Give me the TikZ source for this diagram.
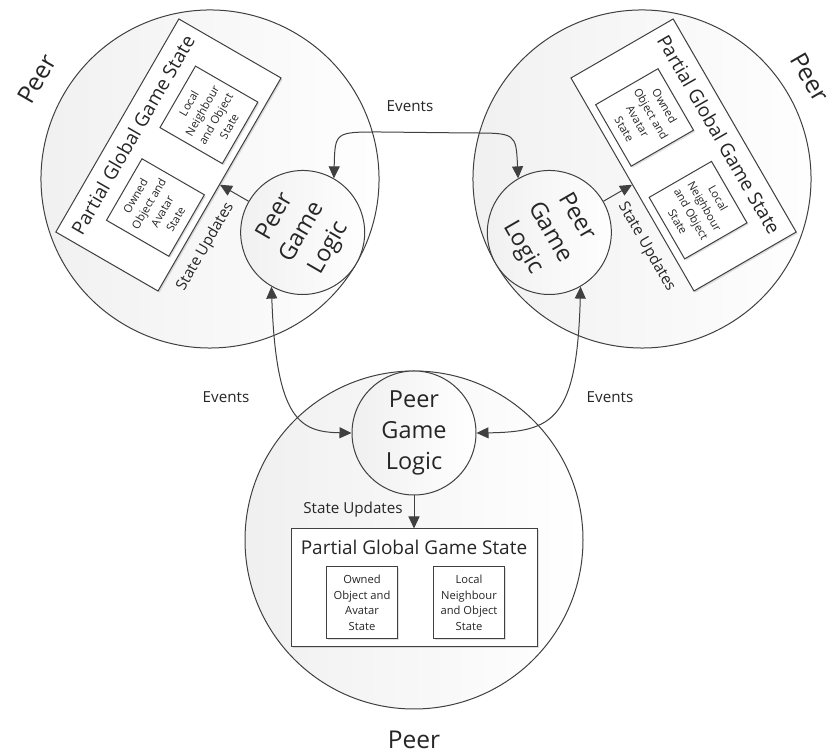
\documentclass[tikz,border=0pt]{standalone}
\usepackage{fontspec}
\setmainfont{Open Sans}
\usetikzlibrary{arrows.meta,shadows,calc}
\definecolor{lc}{HTML}{404040}
\definecolor{tc}{HTML}{262626}
\tikzset{
  ln/.style={draw=lc, line width=1pt},
  bigc/.style={circle, ln, minimum size=338pt, inner sep=0pt, left color=gray!12, right color=white},
  logicc/.style={circle, ln, minimum size=124pt, inner sep=0pt, left color=gray!12, right color=white,
     font=\fontsize{23.5}{31}\selectfont, align=center, text=tc},
  statebox/.style={rectangle, ln, fill=white, minimum width=246pt, minimum height=118pt, inner sep=0pt,
     drop shadow={opacity=0.25, shadow xshift=1.5pt, shadow yshift=-1.5pt}},
  innerbox/.style={rectangle, ln, fill=white, minimum width=71pt, minimum height=72pt, inner sep=0pt,
     align=center, font=\fontsize{11.2}{15.5}\selectfont, text=tc,
     drop shadow={opacity=0.25, shadow xshift=1.5pt, shadow yshift=-1.5pt}},
  titlelbl/.style={font=\fontsize{19}{23}\selectfont, text=tc, inner sep=0pt},
  lbl/.style={font=\fontsize{15.2}{18}\selectfont, text=tc, inner sep=0pt},
  peerlbl/.style={font=\fontsize{24.5}{29}\selectfont, text=tc, inner sep=0pt},
  evarrow/.style={ln, {Triangle[length=12pt,width=11pt]}-{Triangle[length=12pt,width=11pt]}},
  suarrow/.style={ln, -{Triangle[length=12pt,width=11pt]}},
}
% #1 prefix, #2 centre, #3 rotation, #4 layout sign, #5 side of the State Updates label
\newcommand\peergroup[5]{%
\begin{scope}[shift={#2}, rotate=#3, transform shape]
  \node[bigc] (#1-peer) at (0,0) {};
  \node[logicc] (#1-logic) at (0,{-107*#4}) {Peer\\Game\\Logic};
  \node[statebox] (#1-state) at (0,{48*#4}) {};
  \node[titlelbl] (#1-title) at (0,{48*#4+41}) {Partial Global Game State};
  \node[innerbox] (#1-owned) at (-52,{48*#4-15}) {Owned\\Object and\\Avatar\\State};
  \node[innerbox] (#1-local) at (55,{48*#4-15}) {Local\\Neighbour\\and Object\\State};
  \node[peerlbl] (#1-label) at ({-2-2*#5},{(198-2*#5)*#4}) {Peer};
  \node[lbl] (#1-su) at ({61*#5},{-30*#4}) {State Updates};
  \draw[suarrow] (#1-logic) -- (#1-state);
\end{scope}}
\begin{document}
\begin{tikzpicture}[x=1pt,y=1pt]
  \useasboundingbox (0,0) rectangle (833,754);
  \fill[white] (0,0) rectangle (833,754);
  \peergroup{tl}{(210,575)}{60}{1}{-1}
  \peergroup{tr}{(642,575)}{-60}{1}{1}
  \peergroup{b}{(414,214)}{0}{-1}{-1}
  \draw[evarrow] (tl-logic.0) .. controls (335,622) .. (380,622) -- (470,621)
     .. controls (516,621) .. (tr-logic.180);
  \draw[evarrow] (tl-logic.180) .. controls (276,334) and (300,322) .. (b-logic.west);
  \draw[evarrow] (tr-logic.0) .. controls (577,334) and (553,322) .. (b-logic.east);
  \node[lbl] (ev-top) at (410,648) {Events};
  \node[lbl] (ev-left) at (226,357) {Events};
  \node[lbl] (ev-right) at (610,357) {Events};
\end{tikzpicture}
\end{document}
